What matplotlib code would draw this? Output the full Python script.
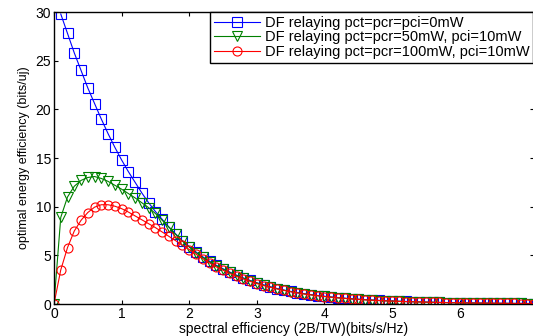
import matplotlib
matplotlib.use("Agg")
import matplotlib.pyplot as plt
import numpy as np

# spectral efficiency grid (bits/s/Hz), step 0.1
spec_eff = np.round(np.arange(0, 7.15, 0.1), 1)

# optimal energy efficiency (bits/uJ)
ee_0mw = [
    np.nan, 29.8, 27.8, 25.8, 24.0, 22.2, 20.6, 19.0, 17.5, 16.1,
    14.8, 13.6, 12.5, 11.4, 10.4, 9.5, 8.7, 7.9, 7.2, 6.5,
    5.9, 5.35, 4.85, 4.4, 3.98, 3.62, 3.28, 2.96, 2.68, 2.42,
    2.18, 1.96, 1.77, 1.59, 1.43, 1.29, 1.17, 1.06, 0.96, 0.87,
    0.79, 0.72, 0.65, 0.59, 0.54, 0.49, 0.45, 0.41, 0.37, 0.34,
    0.31, 0.28, 0.26, 0.24, 0.22, 0.2, 0.18, 0.16, 0.15, 0.14,
    0.13, 0.12, 0.11, 0.1, 0.09, 0.08, 0.08, 0.07, 0.06, 0.06,
    0.05, 0.05,
]
ee_50mw = [
    0.0, 8.9, 11.0, 12.1, 12.7, 13.0, 13.1, 12.9, 12.6, 12.2,
    11.8, 11.35, 10.9, 10.4, 9.9, 9.3, 8.6, 7.9, 7.15, 6.45,
    5.85, 5.28, 4.78, 4.34, 3.93, 3.57, 3.24, 2.93, 2.65, 2.4,
    2.16, 1.94, 1.75, 1.57, 1.42, 1.28, 1.16, 1.05, 0.95, 0.86,
    0.78, 0.71, 0.64, 0.58, 0.53, 0.48, 0.44, 0.4, 0.36, 0.33,
    0.3, 0.28, 0.25, 0.23, 0.21, 0.19, 0.18, 0.16, 0.15, 0.13,
    0.12, 0.11, 0.1, 0.09, 0.09, 0.08, 0.07, 0.07, 0.06, 0.06,
    0.05, 0.05,
]
ee_100mw = [
    0.0, 3.5, 5.8, 7.5, 8.6, 9.4, 9.95, 10.2, 10.2, 10.05,
    9.8, 9.45, 9.05, 8.65, 8.25, 7.85, 7.4, 6.95, 6.5, 6.05,
    5.6, 5.12, 4.66, 4.22, 3.82, 3.47, 3.14, 2.84, 2.57, 2.33,
    2.1, 1.9, 1.72, 1.55, 1.4, 1.26, 1.14, 1.03, 0.94, 0.85,
    0.77, 0.7, 0.63, 0.58, 0.52, 0.48, 0.43, 0.39, 0.36, 0.33,
    0.3, 0.27, 0.25, 0.23, 0.21, 0.19, 0.17, 0.16, 0.14, 0.13,
    0.12, 0.11, 0.1, 0.09, 0.08, 0.08, 0.07, 0.06, 0.06, 0.05,
    0.05, 0.05,
]

labels = [
    "DF relaying pct=pcr=pci=0mW",
    "DF relaying pct=pcr=50mW, pci=10mW",
    "DF relaying pct=pcr=100mW, pci=10mW",
]

plt.rcParams["font.family"] = ["Liberation Sans", "DejaVu Sans"]

fig = plt.figure(figsize=(5.33, 3.36), dpi=100)
ax = fig.add_axes([0.1013, 0.0952, 0.9007, 0.869])

style = dict(linewidth=0.8, markersize=6.5, markerfacecolor="none", markeredgewidth=0.8)
ax.plot(spec_eff, ee_0mw, color="#0000ff", marker="s", label=labels[0], **style)
ax.plot(spec_eff, ee_50mw, color="#008000", marker="v", label=labels[1], **style)
ax.plot(spec_eff, ee_100mw, color="#ff0000", marker="o", label=labels[2], **style)

ax.set_xlim(0, 7.1)
ax.set_ylim(0, 30)
ax.set_xticks(range(0, 7))
ax.set_yticks(range(0, 31, 5))
ax.tick_params(direction="in", top=True, right=True, length=3, width=0.8,
               labelsize=10, pad=2)
for sp in ax.spines.values():
    sp.set_linewidth(1.0)

ax.set_xlabel("spectral efficiency (2B/TW)(bits/s/Hz)", fontsize=10, labelpad=1)
ax.set_ylabel("optimal energy efficiency (bits/uj)", fontsize=9, labelpad=4)

leg = ax.legend(loc="upper right", bbox_to_anchor=(0.998, 1.0), borderaxespad=0,
                fontsize=10.5, numpoints=1, handlelength=3.2, handletextpad=0.3,
                labelspacing=0.05, borderpad=0.25, fancybox=False, framealpha=1)
leg.get_frame().set_edgecolor("black")
leg.get_frame().set_linewidth(1.0)

fig.savefig("out.png", dpi=100)
